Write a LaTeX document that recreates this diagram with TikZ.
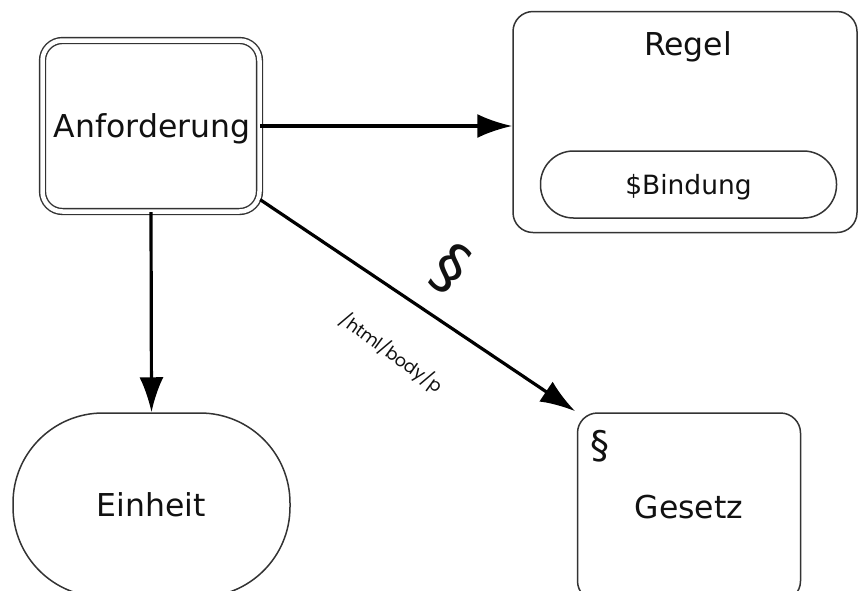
\documentclass[tikz,border=0pt]{standalone}
\usepackage{fontspec}
\setmainfont{DejaVu Sans}
\newfontfamily\popfont{Poppins}
\usetikzlibrary{arrows.meta}
\definecolor{edge}{HTML}{333333}
\definecolor{txt}{HTML}{111111}
\tikzset{
  box/.style={draw=edge, line width=1.5pt, rounded corners=20pt, inner sep=0pt, fill=white},
  lbl/.style={text=txt, inner sep=0pt, font=\fontsize{31.5}{36}\selectfont},
  arr/.style={line width=3.2pt, -{Latex[length=35pt,width=24pt]}},
}
\begin{document}
\begin{tikzpicture}[x=1pt,y=-1pt]
\useasboundingbox (0,0) rectangle (858,590);
% Anforderung (double border)
\node[box, double=white, double distance=4.5pt, minimum width=217pt, minimum height=171pt, line width=1.4pt] (anf) at (151,126) {};
\node[lbl] (anftxt) at (152,129) {Anforderung};
% Regel
\node[box, minimum width=344pt, minimum height=221pt] (regel) at (685,122) {};
\node[lbl] (regeltxt) at (688,47) {Regel};
\node[box, rounded corners=33pt, minimum width=296pt, minimum height=67pt] (bind) at (688.5,184.5) {};
\node[lbl, font=\fontsize{26.5}{32}\selectfont] (bindtxt) at (688.5,187) {\$Bindung};
% Einheit
\node[box, rounded corners=90pt, minimum width=277pt, minimum height=184pt] (einh) at (151.5,505) {};
\node[lbl] (einhtxt) at (151.5,505) {Einheit};
% Gesetz
\node[box, minimum width=223pt, minimum height=188pt] (ges) at (689,507) {};
\node[lbl] (gestxt) at (689,507) {Gesetz};
\node[lbl, font=\fontsize{38}{44}\selectfont] (gessec) at (600,446) {§};
% arrows
\draw[arr] (anf.east) -- (anf.east -| regel.west);
\draw[arr] (anf.south) -- (einh.north);
\draw[arr, shorten >=2pt] (anf.-34) -- (ges.north west);
% edge labels
\node[lbl, rotate=-34, font=\fontsize{62}{68}\selectfont] (sec) at (451,269) {§};
\node[lbl, rotate=-36, font=\popfont\fontsize{17.5}{20}\selectfont] (path) at (391,353) {/html/body/p};
\end{tikzpicture}
\end{document}
